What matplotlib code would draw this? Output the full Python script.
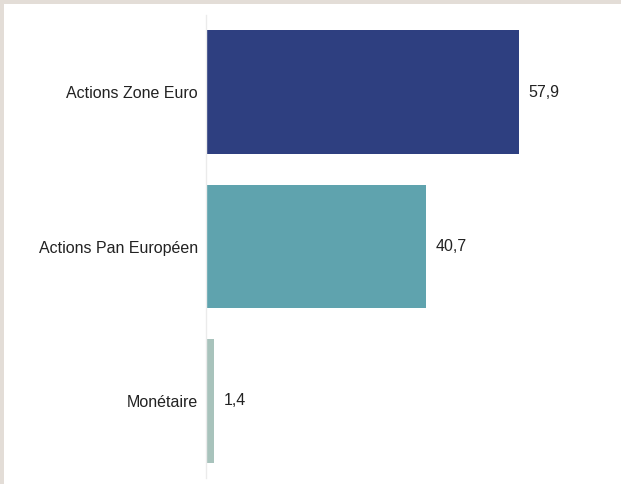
import matplotlib.pyplot as plt
from matplotlib.patches import Rectangle

categories = ['Actions Zone Euro', 'Actions Pan Européen', 'Monétaire']
values = [57.9, 40.7, 1.4]
value_labels = ['57,9', '40,7', '1,4']
colors = ['#2E3F80', '#5FA3AE', '#A8C3BC']

plt.rcParams['font.family'] = ['Liberation Sans', 'DejaVu Sans']

fig = plt.figure(figsize=(6.21, 4.84), dpi=100)
fig.patch.set_facecolor('white')

# beige frame on top and left
fig.patches.append(Rectangle((0, 1 - 4 / 484), 1, 4 / 484, transform=fig.transFigure,
                             facecolor='#E3DDD7', edgecolor='none', zorder=10))
fig.patches.append(Rectangle((0, 0), 4 / 621, 1, transform=fig.transFigure,
                             facecolor='#E3DDD7', edgecolor='none', zorder=10))

ax = fig.add_axes([206 / 621, 1 - 478 / 484, (600 - 206) / 621, (478 - 15) / 484])

y = list(range(len(categories)))
bars = ax.barh(y, values, height=0.8, color=colors)

for bar, lab in zip(bars, value_labels):
    ax.text(bar.get_width() + 1.8, bar.get_y() + bar.get_height() / 2, lab,
            va='center', ha='left', fontsize=11.5, color='#222222')

ax.set_yticks(y)
ax.set_yticklabels(categories, fontsize=11.5, color='#222222')
ax.tick_params(axis='y', length=0, pad=6)
ax.set_xticks([])
ax.set_ylim(2.5, -0.5)
ax.set_xlim(0, (600 - 206) / (313 / 57.9))

for s in ['top', 'right', 'bottom']:
    ax.spines[s].set_visible(False)
ax.spines['left'].set_color('#EBEBEB')
ax.spines['left'].set_linewidth(1)

fig.savefig('out.png', dpi=100)
